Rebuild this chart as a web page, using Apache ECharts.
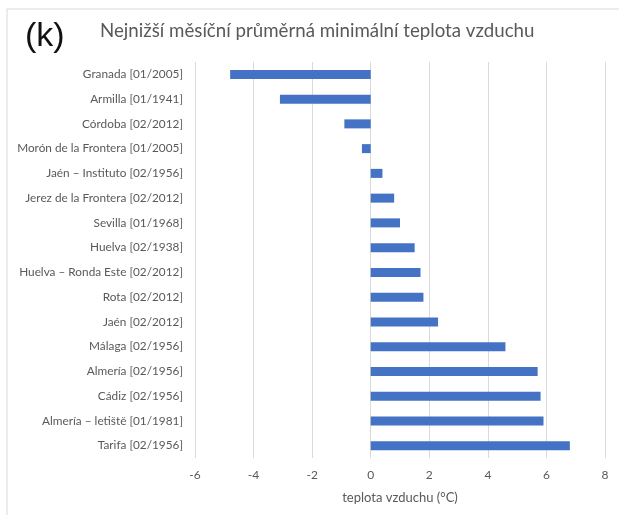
<!DOCTYPE html>
<html>
<head>
<meta charset="utf-8">
<script src="https://cdn.jsdelivr.net/npm/echarts@6/dist/echarts.min.js"></script>
<style>
    html, body { margin: 0; padding: 0; background: #fff; }
    #main { width: 619px; height: 515px; }
</style>
</head>
<body>
<div id="main"></div>
<script>
    var stanice = [
        'Granada [01/2005]',
        'Armilla [01/1941]',
        'Córdoba [02/2012]',
        'Morón de la Frontera [01/2005]',
        'Jaén – Instituto [02/1956]',
        'Jerez de la Frontera [02/2012]',
        'Sevilla [01/1968]',
        'Huelva [02/1938]',
        'Huelva – Ronda Este [02/2012]',
        'Rota [02/2012]',
        'Jaén [02/2012]',
        'Málaga [02/1956]',
        'Almería [02/1956]',
        'Cádiz [02/1956]',
        'Almería – letiště [01/1981]',
        'Tarifa [02/1956]'
    ];
    var teploty = [-4.8, -3.1, -0.9, -0.3, 0.4, 0.8, 1.0, 1.5, 1.7, 1.8, 2.3, 4.6, 5.7, 5.8, 5.9, 6.8];

    var pismo = 'Lato, "Open Sans", sans-serif';
    var seda = '#595959';

    var dom = document.getElementById('main');
    var chart = echarts.init(dom, null, { renderer: 'canvas' });

    chart.setOption({
        animation: false,
        textStyle: { fontFamily: pismo },
        graphic: [
            {
                type: 'rect',
                shape: { x: 7, y: 9, width: 640, height: 540 },
                style: { fill: 'none', stroke: '#d9d9d9', lineWidth: 1 }
            },
            {
                type: 'text',
                left: 25,
                top: 20,
                style: { text: '(k)', font: '34px "Liberation Sans", Arial, sans-serif', fill: '#111' }
            },
            {
                type: 'text',
                left: 100,
                top: 21,
                style: { text: 'Nejnižší měsíční průměrná minimální teplota vzduchu', font: '18.7px ' + pismo, fill: seda }
            }
        ],
        grid: {
            left: 195,
            right: 14,
            top: 62,
            bottom: 57
        },
        xAxis: {
            type: 'value',
            min: -6,
            max: 8,
            interval: 2,
            name: 'teplota vzduchu (°C)',
            nameLocation: 'middle',
            nameGap: 33,
            nameTextStyle: { color: seda, fontSize: 13, fontFamily: pismo },
            axisLine: { show: false },
            axisTick: { show: false },
            axisLabel: { color: seda, fontSize: 12, margin: 11, fontFamily: pismo },
            splitLine: { lineStyle: { color: '#d9d9d9' } }
        },
        yAxis: {
            type: 'category',
            inverse: true,
            data: stanice,
            axisLine: { show: false },
            axisTick: { show: false },
            axisLabel: { color: seda, fontSize: 11.8, margin: 12, fontFamily: pismo }
        },
        series: [
            {
                type: 'bar',
                data: teploty,
                barWidth: 9,
                itemStyle: { color: '#4472c4' }
            }
        ]
    });
</script>
</body>
</html>
